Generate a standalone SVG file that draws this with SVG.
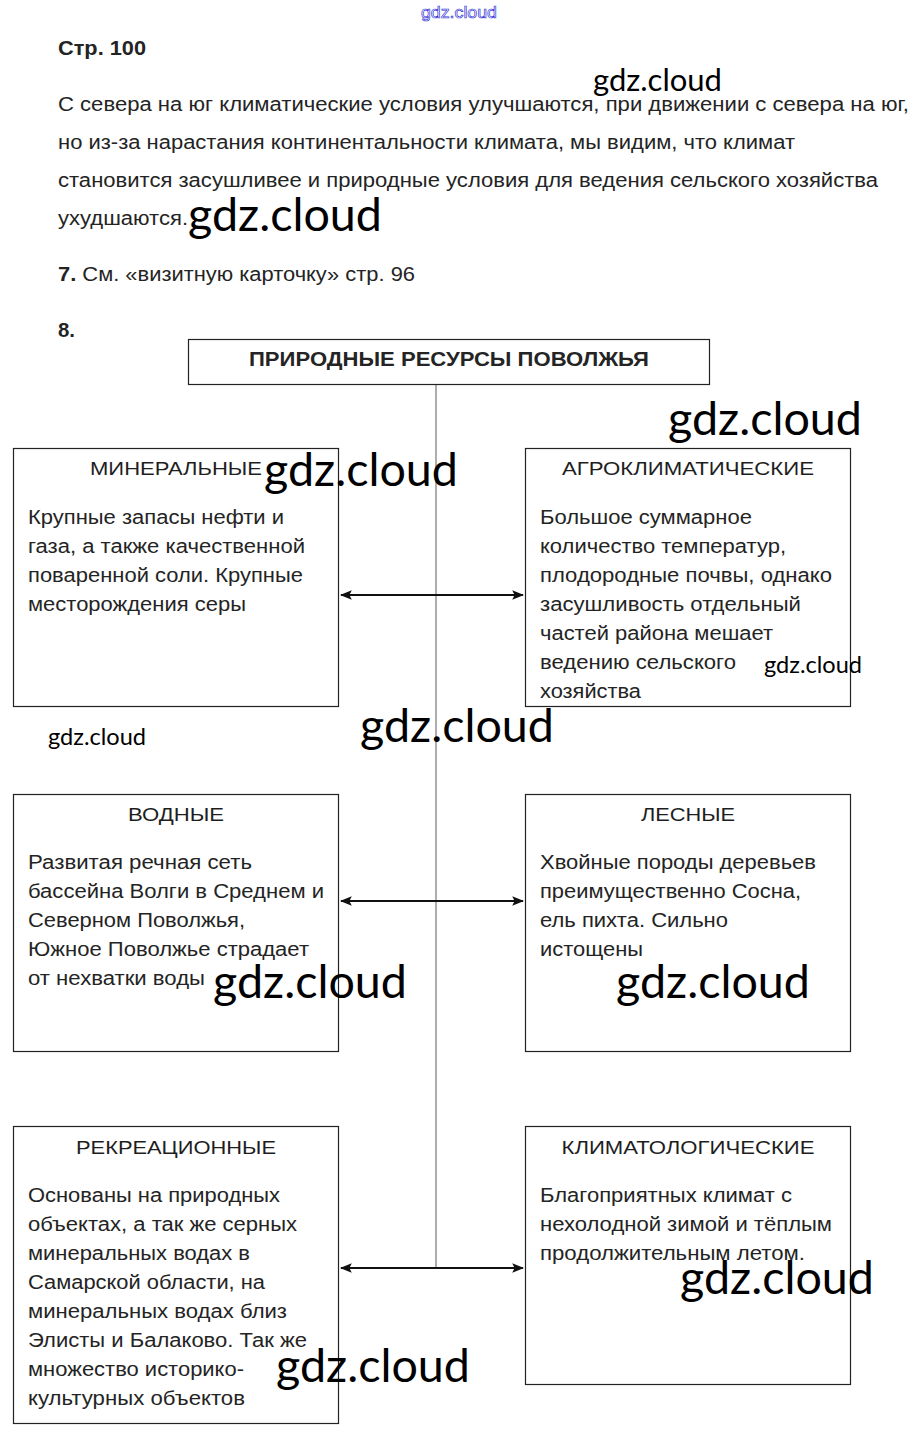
<svg xmlns="http://www.w3.org/2000/svg" width="918" height="1437" viewBox="0 0 918 1437">
<style>
.t{font-family:"Liberation Sans",Arial,sans-serif;font-size:20px;fill:#242424}
.b{font-weight:bold}
.h{font-family:"Liberation Sans",Arial,sans-serif;font-size:19px;fill:#1e1e1e;text-anchor:middle}
.box{fill:#fff;stroke:#222;stroke-width:1.2}
.wm{font-family:Lato,"Open Sans",sans-serif;fill:#000}
.conn{stroke:#111;stroke-width:2;fill:none}
</style>
<defs>
<marker id="ah" viewBox="0 0 10 10" refX="9" refY="5" markerWidth="6" markerHeight="6" orient="auto-start-reverse" markerUnits="strokeWidth">
<path d="M0,1 L10,5 L0,9 L2,5 Z" fill="#111"/>
</marker>
</defs>
<rect width="918" height="1437" fill="#fff"/>

<text x="421" y="18" font-family="'Liberation Sans',Arial,sans-serif" font-size="17" fill="none" stroke="#3838d8" stroke-width="0.7" textLength="76" lengthAdjust="spacingAndGlyphs">gdz.cloud</text>

<g id="intro">
<text class="t b" x="58" y="55" textLength="88" lengthAdjust="spacingAndGlyphs">Стр. 100</text>
<text class="t" x="58" y="111" textLength="851" lengthAdjust="spacingAndGlyphs">С севера на юг климатические условия улучшаются, при движении с севера на юг,</text>
<text class="t" x="58" y="149" textLength="737" lengthAdjust="spacingAndGlyphs">но из-за нарастания континентальности климата, мы видим, что климат</text>
<text class="t" x="58" y="187" textLength="820" lengthAdjust="spacingAndGlyphs">становится засушливее и природные условия для ведения сельского хозяйства</text>
<text class="t" x="58" y="225" textLength="130" lengthAdjust="spacingAndGlyphs">ухудшаются.</text>
<text class="t" x="58" y="281" textLength="357" lengthAdjust="spacingAndGlyphs"><tspan class="b">7.</tspan> См. «визитную карточку» стр. 96</text>
<text class="t b" x="58" y="337" textLength="17" lengthAdjust="spacingAndGlyphs">8.</text>
</g>

<g id="connectors">
<line x1="436" y1="385" x2="436" y2="1268" stroke="#777" stroke-width="1.2"/>
<line class="conn" x1="341" y1="595" x2="523" y2="595" marker-start="url(#ah)" marker-end="url(#ah)"/>
<line class="conn" x1="341" y1="901" x2="523" y2="901" marker-start="url(#ah)" marker-end="url(#ah)"/>
<line class="conn" x1="341" y1="1268" x2="523" y2="1268" marker-start="url(#ah)" marker-end="url(#ah)"/>
</g>

<g id="title">
<rect class="box" x="188.5" y="339.5" width="521" height="45"/>
<text class="t b" x="249" y="366" textLength="400" lengthAdjust="spacingAndGlyphs">ПРИРОДНЫЕ РЕСУРСЫ ПОВОЛЖЬЯ</text>
</g>

<g id="mineral">
<rect class="box" x="13.5" y="448.5" width="325" height="258"/>
<text class="h" x="176" y="475" textLength="172" lengthAdjust="spacingAndGlyphs">МИНЕРАЛЬНЫЕ</text>
<text class="t" x="28" y="524" textLength="256" lengthAdjust="spacingAndGlyphs">Крупные запасы нефти и</text>
<text class="t" x="28" y="553" textLength="277" lengthAdjust="spacingAndGlyphs">газа, а также качественной</text>
<text class="t" x="28" y="582" textLength="275" lengthAdjust="spacingAndGlyphs">поваренной соли. Крупные</text>
<text class="t" x="28" y="611" textLength="218" lengthAdjust="spacingAndGlyphs">месторождения серы</text>
</g>

<g id="agro">
<rect class="box" x="525.5" y="448.5" width="325" height="258"/>
<text class="h" x="688" y="475" textLength="252" lengthAdjust="spacingAndGlyphs">АГРОКЛИМАТИЧЕСКИЕ</text>
<text class="t" x="540" y="524" textLength="212" lengthAdjust="spacingAndGlyphs">Большое суммарное</text>
<text class="t" x="540" y="553" textLength="246" lengthAdjust="spacingAndGlyphs">количество температур,</text>
<text class="t" x="540" y="582" textLength="292" lengthAdjust="spacingAndGlyphs">плодородные почвы, однако</text>
<text class="t" x="540" y="611" textLength="261" lengthAdjust="spacingAndGlyphs">засушливость отдельный</text>
<text class="t" x="540" y="640" textLength="233" lengthAdjust="spacingAndGlyphs">частей района мешает</text>
<text class="t" x="540" y="669" textLength="196" lengthAdjust="spacingAndGlyphs">ведению сельского</text>
<text class="t" x="540" y="698" textLength="101" lengthAdjust="spacingAndGlyphs">хозяйства</text>
</g>

<g id="water">
<rect class="box" x="13.5" y="794.5" width="325" height="257"/>
<text class="h" x="176" y="821" textLength="96" lengthAdjust="spacingAndGlyphs">ВОДНЫЕ</text>
<text class="t" x="28" y="869" textLength="224" lengthAdjust="spacingAndGlyphs">Развитая речная сеть</text>
<text class="t" x="28" y="898" textLength="296" lengthAdjust="spacingAndGlyphs">бассейна Волги в Среднем и</text>
<text class="t" x="28" y="927" textLength="217" lengthAdjust="spacingAndGlyphs">Северном Поволжья,</text>
<text class="t" x="28" y="956" textLength="281" lengthAdjust="spacingAndGlyphs">Южное Поволжье страдает</text>
<text class="t" x="28" y="985" textLength="177" lengthAdjust="spacingAndGlyphs">от нехватки воды</text>
</g>

<g id="forest">
<rect class="box" x="525.5" y="794.5" width="325" height="257"/>
<text class="h" x="688" y="821" textLength="94" lengthAdjust="spacingAndGlyphs">ЛЕСНЫЕ</text>
<text class="t" x="540" y="869" textLength="276" lengthAdjust="spacingAndGlyphs">Хвойные породы деревьев</text>
<text class="t" x="540" y="898" textLength="261" lengthAdjust="spacingAndGlyphs">преимущественно Сосна,</text>
<text class="t" x="540" y="927" textLength="188" lengthAdjust="spacingAndGlyphs">ель пихта. Сильно</text>
<text class="t" x="540" y="956" textLength="103" lengthAdjust="spacingAndGlyphs">истощены</text>
</g>

<g id="recreation">
<rect class="box" x="13.5" y="1126.5" width="325" height="297"/>
<text class="h" x="176" y="1154" textLength="200" lengthAdjust="spacingAndGlyphs">РЕКРЕАЦИОННЫЕ</text>
<text class="t" x="28" y="1202" textLength="252" lengthAdjust="spacingAndGlyphs">Основаны на природных</text>
<text class="t" x="28" y="1231" textLength="269" lengthAdjust="spacingAndGlyphs">объектах, а так же серных</text>
<text class="t" x="28" y="1260" textLength="222" lengthAdjust="spacingAndGlyphs">минеральных водах в</text>
<text class="t" x="28" y="1289" textLength="237" lengthAdjust="spacingAndGlyphs">Самарской области, на</text>
<text class="t" x="28" y="1318" textLength="259" lengthAdjust="spacingAndGlyphs">минеральных водах близ</text>
<text class="t" x="28" y="1347" textLength="279" lengthAdjust="spacingAndGlyphs">Элисты и Балаково. Так же</text>
<text class="t" x="28" y="1376" textLength="216" lengthAdjust="spacingAndGlyphs">множество историко-</text>
<text class="t" x="28" y="1405" textLength="217" lengthAdjust="spacingAndGlyphs">культурных объектов</text>
</g>

<g id="climate">
<rect class="box" x="525.5" y="1126.5" width="325" height="258"/>
<text class="h" x="688" y="1154" textLength="253" lengthAdjust="spacingAndGlyphs">КЛИМАТОЛОГИЧЕСКИЕ</text>
<text class="t" x="540" y="1202" textLength="252" lengthAdjust="spacingAndGlyphs">Благоприятных климат с</text>
<text class="t" x="540" y="1231" textLength="292" lengthAdjust="spacingAndGlyphs">нехолодной зимой и тёплым</text>
<text class="t" x="540" y="1260" textLength="265" lengthAdjust="spacingAndGlyphs">продолжительным летом.</text>
</g>

<g id="watermarks">
<text class="wm" x="593" y="91" font-size="31" textLength="129" lengthAdjust="spacingAndGlyphs">gdz.cloud</text>
<text class="wm" x="188" y="231" font-size="46" textLength="194" lengthAdjust="spacingAndGlyphs">gdz.cloud</text>
<text class="wm" x="668" y="435" font-size="46" textLength="194" lengthAdjust="spacingAndGlyphs">gdz.cloud</text>
<text class="wm" x="264" y="486" font-size="46" textLength="194" lengthAdjust="spacingAndGlyphs">gdz.cloud</text>
<text class="wm" x="764" y="673" font-size="23" textLength="98" lengthAdjust="spacingAndGlyphs">gdz.cloud</text>
<text class="wm" x="48" y="745" font-size="23" textLength="98" lengthAdjust="spacingAndGlyphs">gdz.cloud</text>
<text class="wm" x="360" y="742" font-size="46" textLength="194" lengthAdjust="spacingAndGlyphs">gdz.cloud</text>
<text class="wm" x="213" y="998" font-size="46" textLength="194" lengthAdjust="spacingAndGlyphs">gdz.cloud</text>
<text class="wm" x="616" y="998" font-size="46" textLength="194" lengthAdjust="spacingAndGlyphs">gdz.cloud</text>
<text class="wm" x="680" y="1294" font-size="46" textLength="194" lengthAdjust="spacingAndGlyphs">gdz.cloud</text>
<text class="wm" x="276" y="1382" font-size="46" textLength="194" lengthAdjust="spacingAndGlyphs">gdz.cloud</text>
</g>
</svg>
